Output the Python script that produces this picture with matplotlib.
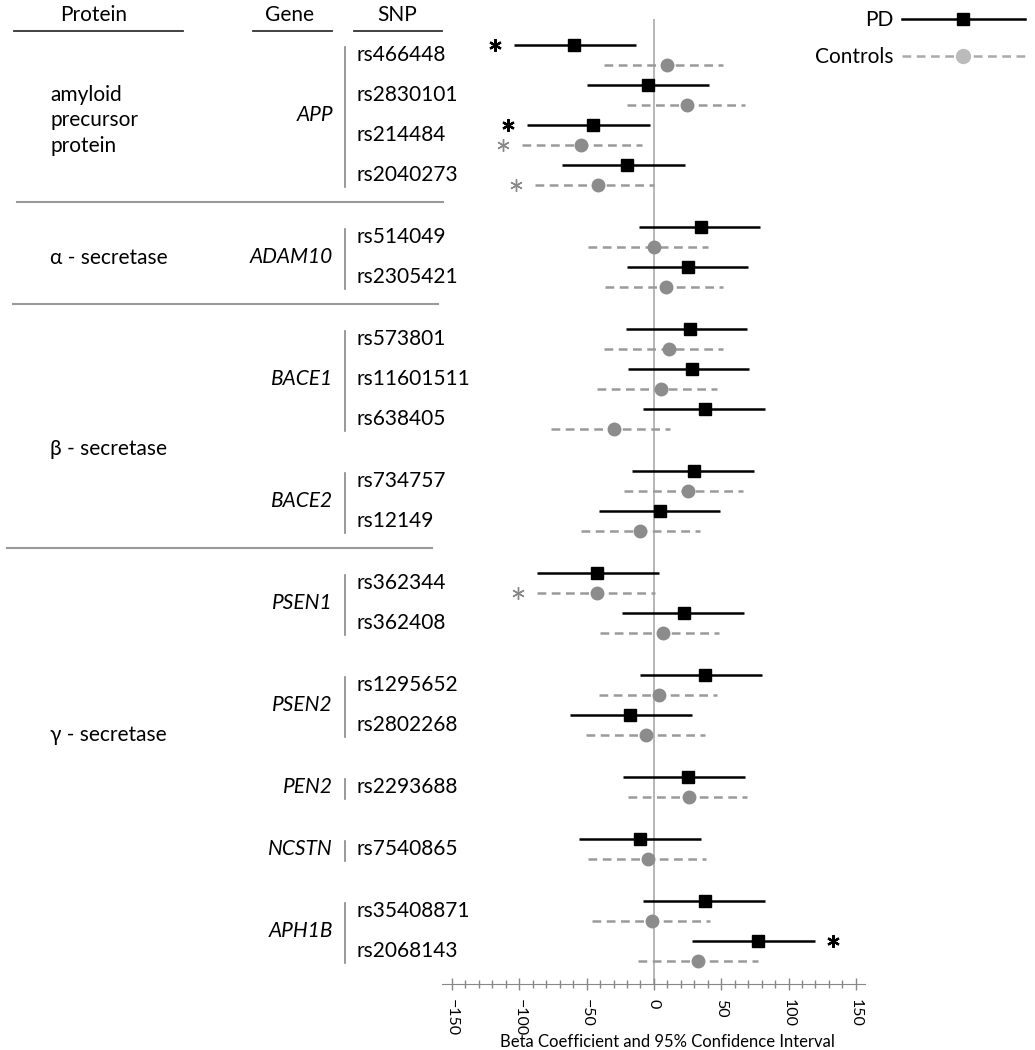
import numpy as np
import matplotlib.pyplot as plt
from matplotlib.transforms import blended_transform_factory, offset_copy
from matplotlib.lines import Line2D

plt.rcParams['font.family'] = ['Lato', 'DejaVu Sans']

# ---- data ----
proteins = ["amyloid\nprecursor\nprotein", "α - secretase", "β - secretase", "γ - secretase"]
genes = ["APP", "ADAM10", "BACE1", "BACE2", "PSEN1", "PSEN2", "PEN2", "NCSTN", "APH1B"]
gene_protein = [0, 1, 2, 2, 3, 3, 3, 3, 3]
gene_snps = [
    ["rs466448", "rs2830101", "rs214484", "rs2040273"],
    ["rs514049", "rs2305421"],
    ["rs573801", "rs11601511", "rs638405"],
    ["rs734757", "rs12149"],
    ["rs362344", "rs362408"],
    ["rs1295652", "rs2802268"],
    ["rs2293688"],
    ["rs7540865"],
    ["rs35408871", "rs2068143"],
]

pd_beta = [-59, -4.5, -45, -20, 35, 25, 27, 28, 38, 30, 4.5, -42, 22, 38, -18, 25, -10, 38, 77]
pd_lo = [-104, -50, -94, -68, -11, -20, -21, -19.5, -8, -16.5, -41, -87, -24, -10.5, -62, -23, -56, -8, 28.5]
pd_hi = [-13, 41, -3, 23, 79, 70, 69.5, 71, 82.5, 74, 49, 4, 67, 80.5, 28, 68, 35, 82.5, 119.5]
ctrl_beta = [10, 24.5, -54, -41.5, 0, 9, 11, 5, -30, 25, -10.5, -42, 6.5, 3.5, -6, 26, -4.5, -1.5, 33]
ctrl_lo = [-37, -20, -98, -88, -49, -36, -37, -42, -76.5, -22, -54, -87, -40, -41, -50.5, -19, -49, -46, -11.5]
ctrl_hi = [51, 68, -9, 0, 40, 51.5, 51.5, 46.5, 12, 66, 34, 0.5, 48, 47, 38, 69, 39, 42, 77]
pd_sig = ["rs466448", "rs214484", "rs2068143"]
ctrl_sig = ["rs214484", "rs2040273", "rs362344"]

# ---- layout ----
GENE_GAP = 1.55
rows = []
gene_rows = []
pos = 0.0
for gi, snps in enumerate(gene_snps):
    if gi > 0:
        pos += GENE_GAP - 1
    these = []
    for s in snps:
        these.append(pos)
        rows.append((s, pos))
        pos += 1
    gene_rows.append(these)
snp_names = [r[0] for r in rows]
y = np.array([r[1] for r in rows])
protein_label_y = [1.63, 5.08, 9.85, 17.0]

PD_OFF, CT_OFF = -0.24, 0.26

fig = plt.figure(figsize=(10.35, 10.5), dpi=100)
W, H = 1035, 1050
ax = fig.add_axes([442 / W, 1 - 984 / H, (865 - 442) / W, (984 - 19) / H])
ax.set_xlim(-157.4, 156.8)
ax.set_ylim(23.225, -0.9)

ax.axvline(0, color='#aaaaaa', lw=1.2, zorder=1)

ypd = y + PD_OFF
yct = y + CT_OFF
ax.hlines(yct, ctrl_lo, ctrl_hi, colors='#9a9a9a', lw=1.8, linestyles=(0, (3.5, 2.2)), zorder=2)
ax.plot(ctrl_beta, yct, 'o', color='#8c8c8c', ms=9, zorder=3)
ax.hlines(ypd, pd_lo, pd_hi, colors='black', lw=1.8, zorder=4)
ax.plot(pd_beta, ypd, 's', color='black', ms=8.5, zorder=5)

# significance asterisks, drawn as 6-armed markers just outside the interval
left_tr = offset_copy(ax.transData, fig=fig, x=-19, y=0, units='dots')
right_tr = offset_copy(ax.transData, fig=fig, x=18, y=0, units='dots')
asterisk = (6, 2, 0)
for i, s in enumerate(snp_names):
    for sig, beta, lo, hi, yy, col, mew in ((pd_sig, pd_beta, pd_lo, pd_hi, ypd, 'black', 1.6),
                                            (ctrl_sig, ctrl_beta, ctrl_lo, ctrl_hi, yct, '#888888', 1.0)):
        if s in sig:
            if beta[i] > 0:
                ax.plot([hi[i]], [yy[i]], marker=asterisk, ms=9, mew=mew, color=col,
                        transform=right_tr, clip_on=False)
            else:
                ax.plot([lo[i]], [yy[i]], marker=asterisk, ms=9, mew=mew, color=col,
                        transform=left_tr, clip_on=False)

# axis styling
for sp in ('top', 'left', 'right'):
    ax.spines[sp].set_visible(False)
ax.spines['bottom'].set_color('#888888')
ax.set_yticks([])
ax.set_xticks(np.arange(-150, 151, 50))
ax.set_xticks(np.arange(-150, 151, 10), minor=True)
ax.tick_params(axis='x', which='major', direction='inout', length=9, width=1, color='#888888',
               labelsize=11.5, pad=6, labelrotation=270)
ax.tick_params(axis='x', which='minor', direction='inout', length=6, width=1, color='#888888')
ax.set_xlabel('Beta Coefficient and 95% Confidence Interval', fontsize=12)
ax.xaxis.set_label_coords(0.532, -0.052)

# ---- left table ----
tr = blended_transform_factory(fig.transFigure, ax.transData)
TXT = 15
for s, yy in rows:
    ax.text(357 / W, yy, s, transform=tr, ha='left', va='center', fontsize=TXT, clip_on=False)
for gi, g in enumerate(genes):
    gr = gene_rows[gi]
    ax.text(333 / W, np.mean(gr), g, transform=tr, ha='right', va='center', fontsize=TXT,
            style='italic', clip_on=False)
    ax.add_line(Line2D([345 / W, 345 / W], [gr[0] - 0.2, gr[-1] + 0.3], transform=tr,
                       color='#888888', lw=1.2, clip_on=False))
for pi, p in enumerate(proteins):
    ax.text(50 / W, protein_label_y[pi], p, transform=tr, ha='left', va='center', fontsize=TXT,
            linespacing=1.35, clip_on=False)

# separators between protein groups
sep_x = [(17, 443), (13, 438), (7, 432)]
k = 0
for gi in range(1, len(genes)):
    if gene_protein[gi] != gene_protein[gi - 1]:
        ys = (gene_rows[gi - 1][-1] + gene_rows[gi][0]) / 2 - 0.1
        x0, x1 = sep_x[k]
        ax.add_line(Line2D([x0 / W, x1 / W], [ys, ys], transform=tr, color='#999999',
                           lw=1.5, clip_on=False))
        k += 1

# headers
for name, xc, (x0, x1) in (("Protein", 94, (14, 183)), ("Gene", 289, (253, 332)), ("SNP", 397, (354, 442))):
    ax.text(xc / W, -1.0, name, transform=tr, ha='center', va='center', fontsize=TXT, clip_on=False)
    ax.add_line(Line2D([x0 / W, x1 / W], [-0.6, -0.6], transform=tr, color='#333333',
                       lw=1.3, clip_on=False))

# legend
h_pd = Line2D([], [], color='black', lw=1.8, marker='s', ms=9)
h_ct = Line2D([], [], color='#aaaaaa', lw=1.8, ls=(0, (3.5, 2.2)), marker='o', ms=10,
              markerfacecolor='#bbbbbb', markeredgecolor='#bbbbbb')
fig.legend([h_pd, h_ct], ['PD', 'Controls'], loc='upper right', bbox_to_anchor=(1.0, 1.0),
           markerfirst=False, frameon=False, fontsize=15, handlelength=5.9,
           handletextpad=0.4, labelspacing=0.8, borderaxespad=0.1)

fig.savefig('out.png', dpi=100)
